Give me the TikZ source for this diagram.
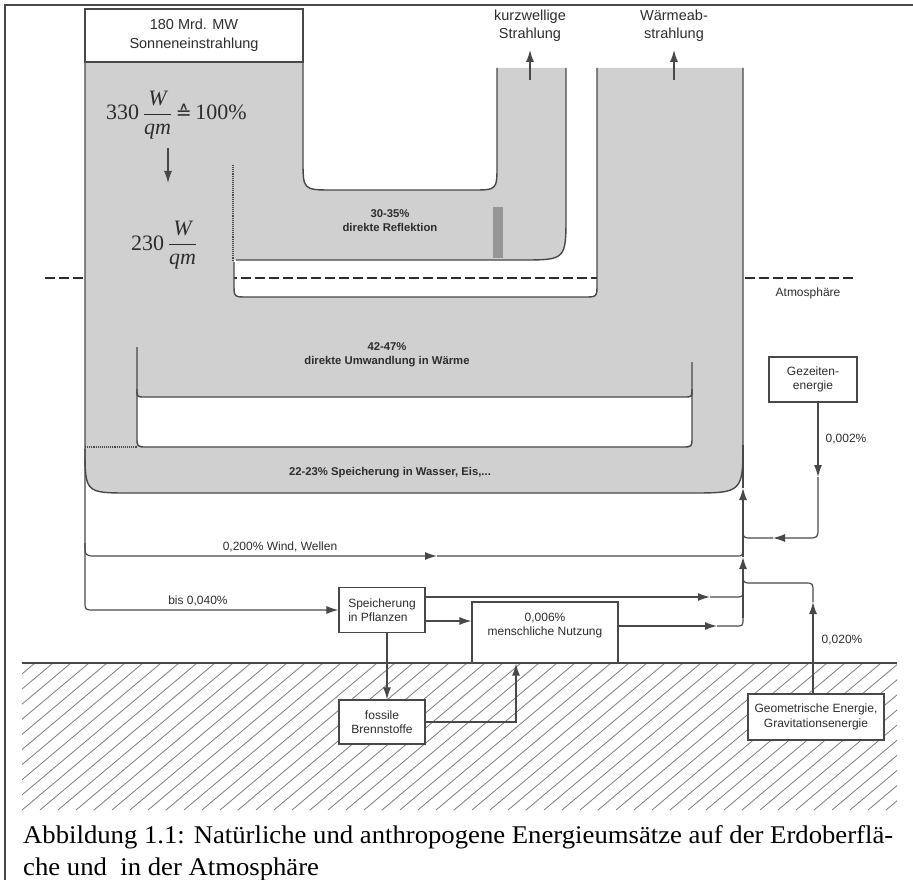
\documentclass[tikz,border=0pt]{standalone}
\usepackage{amsmath}
\usepackage{graphicx}
\usepackage{fontspec}
\setmainfont{Liberation Sans}
\newfontfamily\capfont{Liberation Serif}
\newfontfamily\symfnt{DejaVu Sans}
\usetikzlibrary{arrows.meta}
\definecolor{bandgray}{RGB}{208,208,208}
\definecolor{ink}{RGB}{72,72,72}
\definecolor{hatchc}{RGB}{125,125,125}
\definecolor{txt}{RGB}{45,45,45}
\definecolor{stip}{RGB}{150,150,150}
\newsavebox\capboxA
\newsavebox\capboxB
\begin{document}
\sbox\capboxA{\capfont\fontsize{25.5}{30}\selectfont Abbildung 1.1: Natürliche und anthropogene Energieumsätze auf der Erdoberflä-}%
\sbox\capboxB{\capfont\fontsize{25.5}{30}\selectfont che und\ \ in der Atmosphäre}%
\pgfmathsetmacro\capratio{870/\wd\capboxA}%
\begin{tikzpicture}[x=1pt,y=-1pt,
  small/.style={font=\fontsize{12}{14.5}\selectfont, text=txt, inner sep=0pt, align=center},
  bandtext/.style={font=\bfseries\fontsize{11.3}{14}\selectfont, text=txt, inner sep=0pt, align=center},
  big/.style={font=\fontsize{14.5}{18.5}\selectfont, text=txt, inner sep=0pt, align=center},
  boxnode/.style={draw=ink, line width=1.1pt, fill=white, inner sep=0pt},
  flow/.style={draw=ink, line width=1.2pt},
  tip/.style={-{Latex[length=12pt,width=8pt]}},
  rim/.style={draw=ink, line width=1.4pt},
  divider/.style={draw=ink, line width=1.1pt, densely dotted},
  mathlbl/.style={font=\capfont\fontsize{22}{26}\selectfont, text=txt, inner sep=0pt, anchor=base west},
  capstyle/.style={anchor=base west, inner sep=0pt, text=black!90},
]
\useasboundingbox (0,0) rectangle (913,880);
% frame
\draw[ink,line width=1.6pt] (5,880) -- (5,5) -- (913,5);
% atmosphere boundary
\draw[txt, line width=2.2pt, dash pattern=on 10pt off 4pt] (45,278) -- (855,278);

% gray energy bands
\fill[bandgray] (85,62) -- (303,62) -- (303,160) .. controls (303,190) .. (333,190) -- (472,190) .. controls (497,190) .. (497,165) -- (497,68) -- (566,68) -- (566,215) .. controls (566,260) .. (521,260) -- (234,260) -- (234,284) .. controls (234,297) .. (247,297) -- (584,297) .. controls (597,297) .. (597,284) -- (597,68) -- (743,68) -- (743,440) .. controls (743,493) .. (690,493) -- (130,493) .. controls (85,493) .. (85,448) -- cycle;
\fill[white] (137,397) -- (692,397) -- (692,437) .. controls (692,447) .. (682,447) -- (147,447) .. controls (137,447) .. (137,437) -- cycle;
\fill[stip] (493,207) rectangle (503,258);

\draw[rim] (303,62) -- (303,160) .. controls (303,190) .. (333,190) -- (472,190) .. controls (497,190) .. (497,165) -- (497,68);
\draw[rim] (566,68) -- (566,215) .. controls (566,260) .. (521,260) -- (236,260);
\draw[rim] (234,262) -- (234,284) .. controls (234,297) .. (247,297) -- (584,297) .. controls (597,297) .. (597,284) -- (597,68);
\draw[rim] (743,68) -- (743,440) .. controls (743,493) .. (690,493) -- (130,493) .. controls (85,493) .. (85,448) -- (85,62);
\draw[rim] (137,347) -- (137,437) .. controls (137,447) .. (147,447) -- (682,447) .. controls (692,447) .. (692,437) -- (692,362);
\draw[rim] (137,389) .. controls (137,397) .. (145,397) -- (684,397) .. controls (692,397) .. (692,389);
\draw[divider] (233,165) -- (233,260);
\draw[divider] (85,447) -- (137,447);

% texts in the bands
\node[boxnode, big, minimum width=218pt, minimum height=53pt] (sun) at (194,35.5) {180 Mrd. MW\\Sonneneinstrahlung};
\node[mathlbl] (m330) at (106,120) {330\,$\dfrac{\textit{W}}{\textit{qm}}$\,{\symfnt\fontsize{19}{22}\selectfont ≙}\,100\%};
\coordinate (dn1) at (168,148);
\coordinate (dn2) at (168,183);
\draw[flow,tip] (dn1) -- (dn2);
\node[mathlbl] (m230) at (131,250) {230\,$\dfrac{\textit{W}}{\textit{qm}}$};

\node[big] (kwl) at (530,26) {kurzwellige\\Strahlung};
\node[big] (wal) at (674,26) {Wärmeab-\\strahlung};
\coordinate (kwf) at (530,80);
\coordinate (kwt) at (530,50);
\draw[flow,tip] (kwf) -- (kwt);
\coordinate (waf) at (674,80);
\coordinate (wat) at (674,50);
\draw[flow,tip] (waf) -- (wat);

\node[bandtext] (refl) at (390,221) {30-35\%\\direkte Reflektion};
\node[bandtext] (heat) at (387,355) {42-47\%\\direkte Umwandlung in Wärme};
\node[bandtext] (stor) at (390,473) {22-23\% Speicherung in Wasser, Eis,...};
\node[small] (atm) at (808,293) {Atmosphäre};

% ground
\begin{scope}
\clip (22,663) rectangle (897,810);
\foreach \i in {-10,...,50} \draw[hatchc, line width=0.8pt] ({22+\i*18},810) -- ++(175,-147);
\end{scope}
\draw[rim] (22,663) -- (897,663);

% boxes
\node[boxnode, small, align=left, minimum width=86pt, minimum height=45pt] (spei) at (382,610) {Speicherung\\in Pflanzen};
\node[boxnode, minimum width=146pt, minimum height=61pt] (nutz) at (545,632.5) {};
\node[small] (nutzt) at (545,625.5) {0,006\%\\menschliche Nutzung};
\node[boxnode, small, minimum width=86pt, minimum height=44pt] (foss) at (382,722) {fossile\\Brennstoffe};
\node[boxnode, small, minimum width=88pt, minimum height=45pt] (gez) at (813,379.5) {Gezeiten-\\energie};
\node[boxnode, small, minimum width=136pt, minimum height=46pt] (geo) at (816,717) {Geometrische Energie,\\Gravitationsenergie};

% flows
\coordinate (lsA) at (85,449);
\draw[flow,tip] (lsA) -- (85,601) .. controls (85,610) .. (94,610) -- (spei.west);
\node[small] (bisl) at (198,601) {bis 0,040\%};
\coordinate (wmid) at (437,556);
\draw[flow,tip] (85,543) .. controls (85,556) .. (96,556) -- (wmid);
\draw[flow] (wmid) -- (735,556) .. controls (743,556) .. (743,548);
\node[small] (windl) at (280,547) {0,200\% Wind, Wellen};

\coordinate (nIn) at (0,621);
\draw[flow,tip] (spei.east |- nIn) -- (nutz.west |- nIn);
\coordinate (sUp) at (710,597);
\draw[flow,tip] (spei.east |- sUp) -- (sUp);
\draw[flow] (sUp) -- (735,597) .. controls (743,597) .. (743,589);
\coordinate (nOut) at (717,626);
\draw[flow,tip] (nutz.east |- nOut) -- (nOut);
\draw[flow] (nOut) -- (735,626) .. controls (743,626) .. (743,618);

\coordinate (tr0) at (743,618);
\coordinate (tr1) at (743,557);
\coordinate (tr2) at (743,488);
\coordinate (tr3) at (743,445);
\draw[flow,tip] (tr0) -- (tr1);
\draw[flow,tip] (tr1) -- (tr2);
\draw[flow] (tr2) -- (tr3);

\coordinate (gzx) at (818,0);
\coordinate (gz1) at (818,477);
\coordinate (gz2) at (773,538);
\draw[flow,tip] (gez.south -| gzx) -- (gz1);
\draw[flow,tip] (gz1) -- (818,527) .. controls (818,538) .. (807,538) -- (gz2);
\draw[flow] (gz2) -- (752,538) .. controls (743,538) .. (743,529);
\node[small] (gzl) at (846,439) {0,002\%};

\coordinate (gox) at (813,0);
\coordinate (go1) at (813,602);
\draw[flow,tip] (geo.north -| gox) -- (go1);
\draw[flow] (go1) -- (813,592) .. controls (813,583) .. (804,583) -- (752,583) .. controls (743,583) .. (743,574);
\node[small] (gol) at (842,640) {0,020\%};

\coordinate (fx) at (387,0);
\draw[flow,tip] (spei.south -| fx) -- (foss.north -| fx);
\coordinate (fnx) at (516,0);
\draw[flow,tip] (foss.east) -| (nutz.south -| fnx);

% caption
\node[capstyle] (cap1) at (23,843) {\scalebox{\capratio}[1]{\usebox\capboxA}};
\node[capstyle] (cap2) at (23,875) {\scalebox{\capratio}[1]{\usebox\capboxB}};
\end{tikzpicture}
\end{document}
